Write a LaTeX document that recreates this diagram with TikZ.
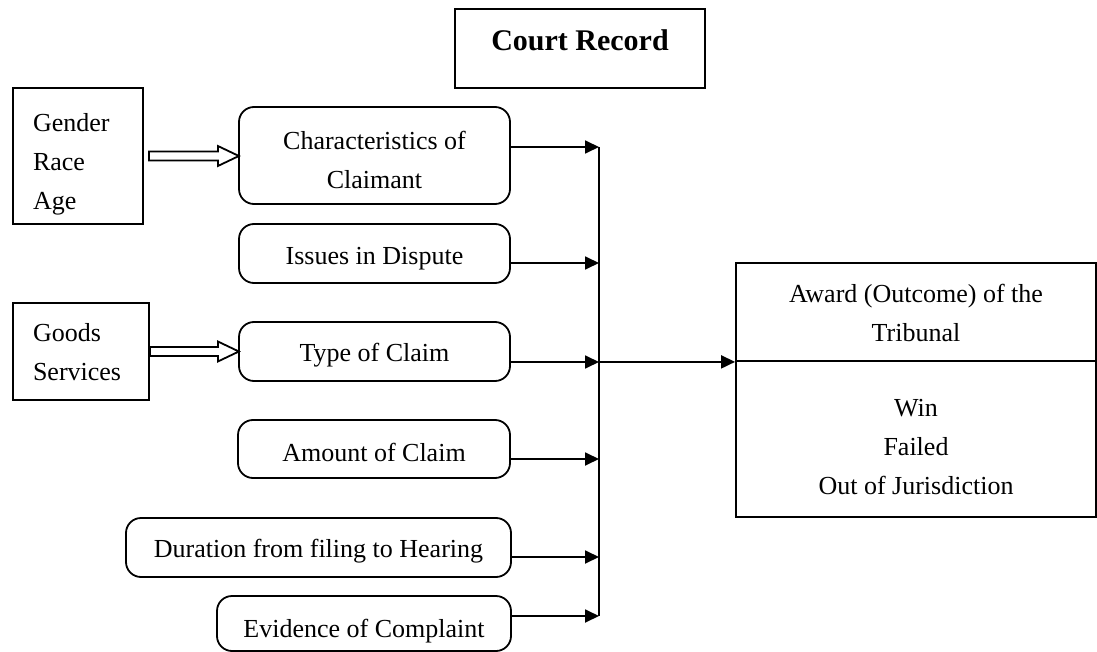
\documentclass[tikz,border=0pt]{standalone}
\usepackage{fontspec}
\setmainfont{Liberation Serif}
\usetikzlibrary{arrows.meta}
\newcommand\lift[1]{\rule{0pt}{#1}}
\begin{document}
\begin{tikzpicture}[x=0.5pt,y=-0.5pt,
  lw/.style={line width=0.9pt},
  sqbox/.style={draw, lw, inner sep=0pt, align=center, font=\fontsize{13}{19.5}\selectfont},
  rbox/.style={sqbox, rounded corners=7.5pt},
  listbox/.style={sqbox, align=left},
  arr/.style={lw, -{Triangle[length=7pt,width=6.5pt]}},
  hollow/.style={lw, fill=white, line join=miter}]
\useasboundingbox (0,0) rectangle (1097,652);

% title
\node[sqbox, minimum width=125pt, minimum height=39.5pt, font=\fontsize{15}{19}\selectfont\bfseries, text height=10pt, text depth=8pt] (court) at (580,48.5) {Court Record};

% left list boxes
\node[listbox, text width=45pt, minimum width=65pt, minimum height=68pt] (gender) at (78,156) {\lift{17pt}Gender\\Race\\Age};
\node[listbox, text width=48pt, minimum width=68pt, minimum height=48.5pt] (goods) at (81,351.5) {\lift{10pt}Goods\\Services};

% factor boxes
\node[rbox, minimum width=135.5pt, minimum height=48.5pt] (cc) at (374.5,155.5) {\lift{14pt}Characteristics of\\Claimant};
\node[rbox, minimum width=135.5pt, minimum height=29.5pt] (issues) at (374.5,253.5) {\lift{14pt}Issues in Dispute};
\node[rbox, minimum width=135.5pt, minimum height=29.5pt] (type) at (374.5,351.5) {\lift{13pt}Type of Claim};
\node[rbox, minimum width=136pt, minimum height=29pt] (amount) at (374,449) {\lift{13pt}Amount of Claim};
\node[rbox, minimum width=192.5pt, minimum height=29.5pt] (duration) at (318.5,547.5) {\lift{13pt}Duration from filing to Hearing};
\node[rbox, minimum width=147pt, minimum height=27.5pt] (evidence) at (364,623.5) {\lift{17pt}Evidence of Complaint};

% outcome box
\node[sqbox, minimum width=180pt, minimum height=49pt] (awardtop) at (916,312) {\lift{10pt}Award (Outcome) of the\\Tribunal};
\node[sqbox, minimum width=180pt, minimum height=78pt] (awardbot) at (916,439) {\lift{17pt}Win\\Failed\\Out of Jurisdiction};

% bus coordinates
\coordinate (a1) at (599,147);
\coordinate (a2) at (599,263);
\coordinate (a3) at (599,362);
\coordinate (a4) at (599,459);
\coordinate (a5) at (599,557);
\coordinate (a6) at (599,616);

\draw[lw] (a1) -- (a6);
\draw[arr] (cc.east |- a1) -- (a1);
\draw[arr] (issues.east |- a2) -- (a2);
\draw[arr] (type.east |- a3) -- (a3);
\draw[arr] (amount.east |- a4) -- (a4);
\draw[arr] (duration.east |- a5) -- (a5);
\draw[arr] (evidence.east |- a6) -- (a6);
\draw[arr] (a3) -- (awardtop.south west);

% hollow arrows
\coordinate (h1) at ([xshift=2.5pt]gender.east);
\draw[hollow] (h1) -- ++(0,-4.5) -- ++(69,0) -- ++(0,-5.5) -- ++(21,10) -- ++(-21,10) -- ++(0,-5.5) -- ++(-69,0) -- cycle;
\coordinate (h2) at (goods.east);
\draw[hollow] (h2) -- ++(0,-4.5) -- ++(68,0) -- ++(0,-5.5) -- ++(21,10) -- ++(-21,10) -- ++(0,-5.5) -- ++(-68,0) -- cycle;
\end{tikzpicture}
\end{document}
